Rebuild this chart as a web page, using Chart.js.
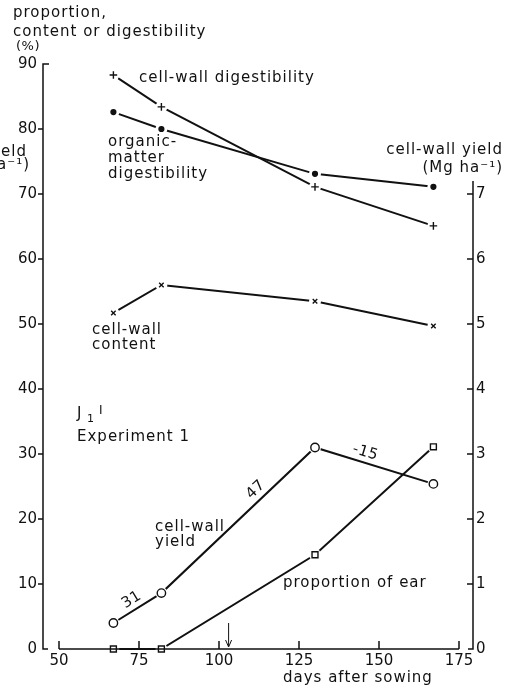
<!DOCTYPE html>
<html>
<head>
<meta charset="utf-8">
<script src="https://cdn.jsdelivr.net/npm/chart.js@4/dist/chart.umd.min.js"></script>
<style>
  html, body { margin: 0; padding: 0; background: #fff; }
  #wrap { width: 514px; height: 692px; }
</style>
</head>
<body>
<div id="wrap"><canvas id="c" width="514" height="692"></canvas></div>
<script>
// Harvest dates (days after sowing)
const days = [67, 82, 130, 167];

// Left axis: percentages
const cellWallDigestibility = [88.3, 83.4, 71.1, 65.1];
const organicMatterDigestibility = [82.6, 80.0, 73.1, 71.1];
const cellWallContent = [51.7, 56.0, 53.5, 49.7];
const proportionOfEar = [0, 0, 14.5, 31.1];

// Right axis: cell-wall yield (Mg ha-1)
const cellWallYield = [0.40, 0.86, 3.10, 2.54];

// Growth rates written along the yield line (kg ha-1 day-1)
const yieldRates = ['31', '47', '-15'];

// Tick labels
const xTicks = [50, 75, 100, 125, 150, 175];
const leftTicks = [0, 10, 20, 30, 40, 50, 60, 70, 80, 90];
const rightTicks = [0, 1, 2, 3, 4, 5, 6, 7];

// Ear emergence marker
const earEmergenceDay = 103;

const FONT = '"DejaVu Sans", sans-serif';
const INK = '#111';

function pts(ys) { return days.map((d, i) => ({ x: d, y: ys[i] })); }

function series(data, style, radius, fill, axis) {
  return {
    data: pts(data),
    yAxisID: axis || 'y',
    borderColor: INK,
    borderWidth: 2,
    pointStyle: style,
    pointRadius: radius,
    pointBorderWidth: 1.4,
    pointBorderColor: INK,
    pointBackgroundColor: fill,
    tension: 0,
    clip: false
  };
}

function text(ctx, s, x, y, opt) {
  opt = opt || {};
  ctx.save();
  ctx.font = (opt.size || 15) + 'px ' + FONT;
  ctx.letterSpacing = (opt.spacing == null ? 1 : opt.spacing) + 'px';
  ctx.fillStyle = INK;
  ctx.textAlign = opt.align || 'left';
  ctx.textBaseline = 'middle';
  ctx.translate(x, y);
  if (opt.rot) ctx.rotate(opt.rot * Math.PI / 180);
  ctx.fillText(s, 0, 0);
  ctx.restore();
}

// Break the lines around each marker, then redraw the markers on top
const markerGaps = {
  id: 'markerGaps',
  afterDatasetsDraw(chart) {
    const ctx = chart.ctx;
    chart.data.datasets.forEach((ds, i) => {
      const meta = chart.getDatasetMeta(i);
      meta.data.forEach(el => {
        ctx.save();
        ctx.fillStyle = '#fff';
        ctx.beginPath();
        ctx.arc(el.x, el.y, 6, 0, Math.PI * 2);
        ctx.fill();
        ctx.restore();
      });
    });
    chart.data.datasets.forEach((ds, i) => {
      const meta = chart.getDatasetMeta(i);
      meta.data.forEach(el => el.draw(ctx, chart.chartArea));
    });
  }
};

// Axis lines, tick marks and annotations
const frame = {
  id: 'frame',
  afterDraw(chart) {
    const ctx = chart.ctx;
    const x = chart.scales.x, yl = chart.scales.y, yr = chart.scales.y2;
    ctx.save();
    ctx.strokeStyle = INK;
    ctx.lineWidth = 1.5;
    ctx.lineCap = 'butt';

    // left axis
    const lx = x.left;
    ctx.beginPath();
    ctx.moveTo(lx + 6, yl.getPixelForValue(90));
    ctx.lineTo(lx, yl.getPixelForValue(90));
    ctx.lineTo(lx, yl.getPixelForValue(0));
    ctx.lineTo(lx + 5, yl.getPixelForValue(0));
    leftTicks.slice(1, -1).forEach(v => {
      const py = yl.getPixelForValue(v);
      ctx.moveTo(lx - 5, py);
      ctx.lineTo(lx, py);
    });
    ctx.stroke();

    // bottom axis
    const by = yl.getPixelForValue(0);
    ctx.beginPath();
    ctx.moveTo(x.getPixelForValue(xTicks[0]), by);
    ctx.lineTo(x.getPixelForValue(xTicks[xTicks.length - 1]), by);
    xTicks.forEach(v => {
      const px = x.getPixelForValue(v);
      ctx.moveTo(px, by);
      ctx.lineTo(px, by - 8);
    });
    ctx.stroke();

    // right axis
    const rx = x.right;
    ctx.beginPath();
    ctx.moveTo(rx - 5, yr.getPixelForValue(0));
    ctx.lineTo(rx, yr.getPixelForValue(0));
    ctx.lineTo(rx, yr.getPixelForValue(7.2));
    rightTicks.slice(1).forEach(v => {
      const py = yr.getPixelForValue(v);
      ctx.moveTo(rx - 6, py);
      ctx.lineTo(rx, py);
    });
    ctx.stroke();

    // arrow at ear emergence
    const ax = x.getPixelForValue(earEmergenceDay);
    ctx.lineWidth = 1;
    ctx.beginPath();
    ctx.moveTo(ax, by - 26);
    ctx.lineTo(ax, by - 3);
    ctx.stroke();
    ctx.beginPath();
    ctx.moveTo(ax - 3, by - 9);
    ctx.lineTo(ax, by - 2);
    ctx.lineTo(ax + 3, by - 9);
    ctx.stroke();
    ctx.restore();

    // axis titles
    text(ctx, 'proportion,', 13, 13);
    text(ctx, 'content or digestibility', 13, 32);
    text(ctx, '(%)', 16, 47, { size: 13, spacing: 0.5 });
    text(ctx, 'cell-wall yield', 503, 150, { align: 'right' });
    text(ctx, '(Mg ha\u207B\u00B9)', 503, 168, { align: 'right' });
    text(ctx, 'yield', 27, 152, { align: 'right' });
    text(ctx, '(Mg ha\u207B\u00B9)', 30, 165, { align: 'right' });
    text(ctx, 'days after sowing', 283, 678);

    // series labels
    text(ctx, 'cell-wall digestibility', 139, 78);
    text(ctx, 'organic-', 108, 142);
    text(ctx, 'matter', 108, 158);
    text(ctx, 'digestibility', 108, 174);
    text(ctx, 'cell-wall', 92, 330);
    text(ctx, 'content', 92, 345);
    text(ctx, 'cell-wall', 155, 527);
    text(ctx, 'yield', 155, 542);
    text(ctx, 'proportion of ear', 283, 583);

    // panel id
    text(ctx, 'J', 77, 414);
    text(ctx, '1', 87, 419, { size: 11 });
    text(ctx, 'I', 99, 411, { size: 12 });
    text(ctx, 'Experiment 1', 77, 437);

    // rates along the yield line, rotated to follow each segment
    const along = [0.49, 0.66, 0.40];
    for (let i = 0; i < 3; i++) {
      const x0 = x.getPixelForValue(days[i]), y0 = yr.getPixelForValue(cellWallYield[i]);
      const x1 = x.getPixelForValue(days[i + 1]), y1 = yr.getPixelForValue(cellWallYield[i + 1]);
      const ang = Math.atan2(y1 - y0, x1 - x0);
      const t = along[i];
      const mx = x0 + (x1 - x0) * t, my = y0 + (y1 - y0) * t;
      const off = 10;
      text(ctx, yieldRates[i], mx + Math.sin(ang) * off, my - Math.cos(ang) * off,
        { rot: ang * 180 / Math.PI, align: 'center', spacing: 0.5 });
    }
  }
};

new Chart(document.getElementById('c'), {
  type: 'line',
  data: {
    datasets: [
      series(cellWallDigestibility, 'cross', 3.8, INK),
      series(organicMatterDigestibility, 'circle', 2.4, INK),
      series(cellWallContent, 'crossRot', 3.2, INK),
      series(cellWallYield, 'circle', 4.2, '#fff', 'y2'),
      series(proportionOfEar, 'rect', 4.2, '#fff')
    ]
  },
  options: {
    responsive: false,
    animation: false,
    events: [],
    layout: { padding: { top: 64, left: 0, right: 0, bottom: 0 } },
    plugins: { legend: { display: false }, tooltip: { enabled: false } },
    scales: {
      x: {
        type: 'linear',
        min: 45,
        max: 179.375,
        grid: { display: false, drawTicks: false, tickLength: 0 },
        border: { display: false },
        afterBuildTicks: s => { s.ticks = xTicks.map(v => ({ value: v })); },
        afterFit: s => { s.height = 43; },
        ticks: { color: INK, font: { family: FONT, size: 15 }, padding: 3, maxRotation: 0, autoSkip: false }
      },
      y: {
        position: 'left',
        min: 0,
        max: 90,
        grid: { display: false, drawTicks: false, tickLength: 0 },
        border: { display: false },
        afterBuildTicks: s => { s.ticks = leftTicks.map(v => ({ value: v })); },
        afterFit: s => { s.width = 43; },
        ticks: { color: INK, font: { family: FONT, size: 15 }, padding: 6 }
      },
      y2: {
        position: 'right',
        min: 0,
        max: 9,
        grid: { display: false, drawTicks: false, tickLength: 0 },
        border: { display: false },
        afterBuildTicks: s => { s.ticks = rightTicks.map(v => ({ value: v })); },
        afterFit: s => { s.width = 41; },
        ticks: { color: INK, font: { family: FONT, size: 15 }, padding: 3 }
      }
    }
  },
  plugins: [markerGaps, frame]
});
</script>
</body>
</html>
